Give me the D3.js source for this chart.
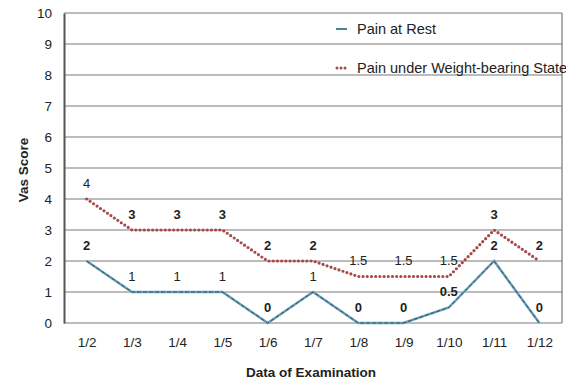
<!DOCTYPE html>
<html>
<head>
<meta charset="utf-8">
<script src="https://cdn.jsdelivr.net/npm/d3@7"></script>
<style>
  body { margin: 0; background: #fff; }
  text { font-family: "Liberation Sans", Arial, sans-serif; fill: #222; }
</style>
</head>
<body>
<div id="chart"></div>
<script>
// chart data
const dates = ["1/2", "1/3", "1/4", "1/5", "1/6", "1/7", "1/8", "1/9", "1/10", "1/11", "1/12"];
const painAtRest = [2, 1, 1, 1, 0, 1, 0, 0, 0.5, 2, 0];
const painWeightBearing = [4, 3, 3, 3, 2, 2, 1.5, 1.5, 1.5, 3, 2];
const yTicks = [0, 1, 2, 3, 4, 5, 6, 7, 8, 9, 10];

const width = 566, height = 381;
const margin = { top: 13, right: 4, bottom: 58, left: 64 };
const w = width - margin.left - margin.right;
const h = height - margin.top - margin.bottom;

const svg = d3.select("#chart").append("svg")
    .attr("width", width)
    .attr("height", height);

const g = svg.append("g")
    .attr("transform", `translate(${margin.left},${margin.top})`);

const x = d3.scalePoint()
    .domain(dates)
    .range([0, w])
    .padding(0.5);

const y = d3.scaleLinear()
    .domain([0, 10])
    .range([h, 0]);

// gridlines
g.selectAll(".grid")
    .data(yTicks)
    .join("line")
    .attr("class", "grid")
    .attr("x1", 0)
    .attr("x2", w)
    .attr("y1", d => y(d))
    .attr("y2", d => y(d))
    .attr("stroke", "#a6a6a6")
    .attr("stroke-width", 1.3);

// right border
g.append("line")
    .attr("x1", w).attr("x2", w)
    .attr("y1", 0).attr("y2", h)
    .attr("stroke", "#808080")
    .attr("stroke-width", 1.3);

// y axis
const yAxis = g.append("g")
    .call(d3.axisLeft(y).tickValues(yTicks).tickSize(0).tickPadding(12));
yAxis.select(".domain").attr("stroke", "#555").attr("stroke-width", 2);
yAxis.selectAll("text").style("font-size", "13.5px").attr("fill", "#333");

// x axis
const xAxis = g.append("g")
    .attr("transform", `translate(0,${h})`)
    .call(d3.axisBottom(x).tickSize(0).tickPadding(14));
xAxis.select(".domain").remove();
xAxis.selectAll("text").style("font-size", "13.5px").attr("fill", "#333");

// axis titles
svg.append("text")
    .attr("x", 311)
    .attr("y", 377)
    .attr("text-anchor", "middle")
    .style("font-size", "13.5px")
    .style("font-weight", "bold")
    .text("Data of Examination");

svg.append("text")
    .attr("transform", "translate(28,170) rotate(-90)")
    .attr("text-anchor", "middle")
    .style("font-size", "13.5px")
    .style("font-weight", "bold")
    .text("Vas Score");

const line = d3.line()
    .x((d, i) => x(dates[i]))
    .y(d => y(d));

// pain at rest
g.append("path")
    .datum(painAtRest)
    .attr("d", line)
    .attr("fill", "none")
    .attr("stroke", "#6a9fbb")
    .attr("stroke-width", 2.5);
g.append("path")
    .datum(painAtRest)
    .attr("d", line)
    .attr("fill", "none")
    .attr("stroke", "#2f5566")
    .attr("stroke-width", 1)
    .attr("stroke-dasharray", "4 2");

// pain under weight-bearing (dotted)
g.append("path")
    .datum(painWeightBearing)
    .attr("d", line)
    .attr("fill", "none")
    .attr("stroke", "#a84848")
    .attr("stroke-width", 3.2)
    .attr("stroke-linecap", "round")
    .attr("stroke-dasharray", "0 4.2");

// value labels
const thin = v => v === 1 || v === 1.5 || v === 4;
function labels(values, cls) {
    g.selectAll("." + cls)
        .data(values)
        .join("text")
        .attr("class", cls)
        .attr("x", (d, i) => x(dates[i]))
        .attr("y", d => y(d) - 16)
        .attr("dy", "0.35em")
        .attr("text-anchor", "middle")
        .style("font-size", "13px")
        .style("font-weight", d => thin(d) ? "normal" : "bold")
        .text(d => d);
}
labels(painWeightBearing, "lab-wb");
labels(painAtRest, "lab-rest");

// legend
const legend = svg.append("g");
legend.append("line")
    .attr("x1", 336).attr("x2", 347)
    .attr("y1", 29).attr("y2", 29)
    .attr("stroke", "#4f7f99")
    .attr("stroke-width", 2);
legend.append("text")
    .attr("x", 357).attr("y", 29)
    .attr("dy", "0.35em")
    .style("font-size", "14.5px")
    .text("Pain at Rest");
legend.append("line")
    .attr("x1", 337).attr("x2", 347)
    .attr("y1", 68).attr("y2", 68)
    .attr("stroke", "#a84848")
    .attr("stroke-width", 3)
    .attr("stroke-linecap", "round")
    .attr("stroke-dasharray", "0 4");
legend.append("text")
    .attr("x", 357).attr("y", 68)
    .attr("dy", "0.35em")
    .style("font-size", "14.5px")
    .text("Pain under Weight-bearing State");
</script>
</body>
</html>
